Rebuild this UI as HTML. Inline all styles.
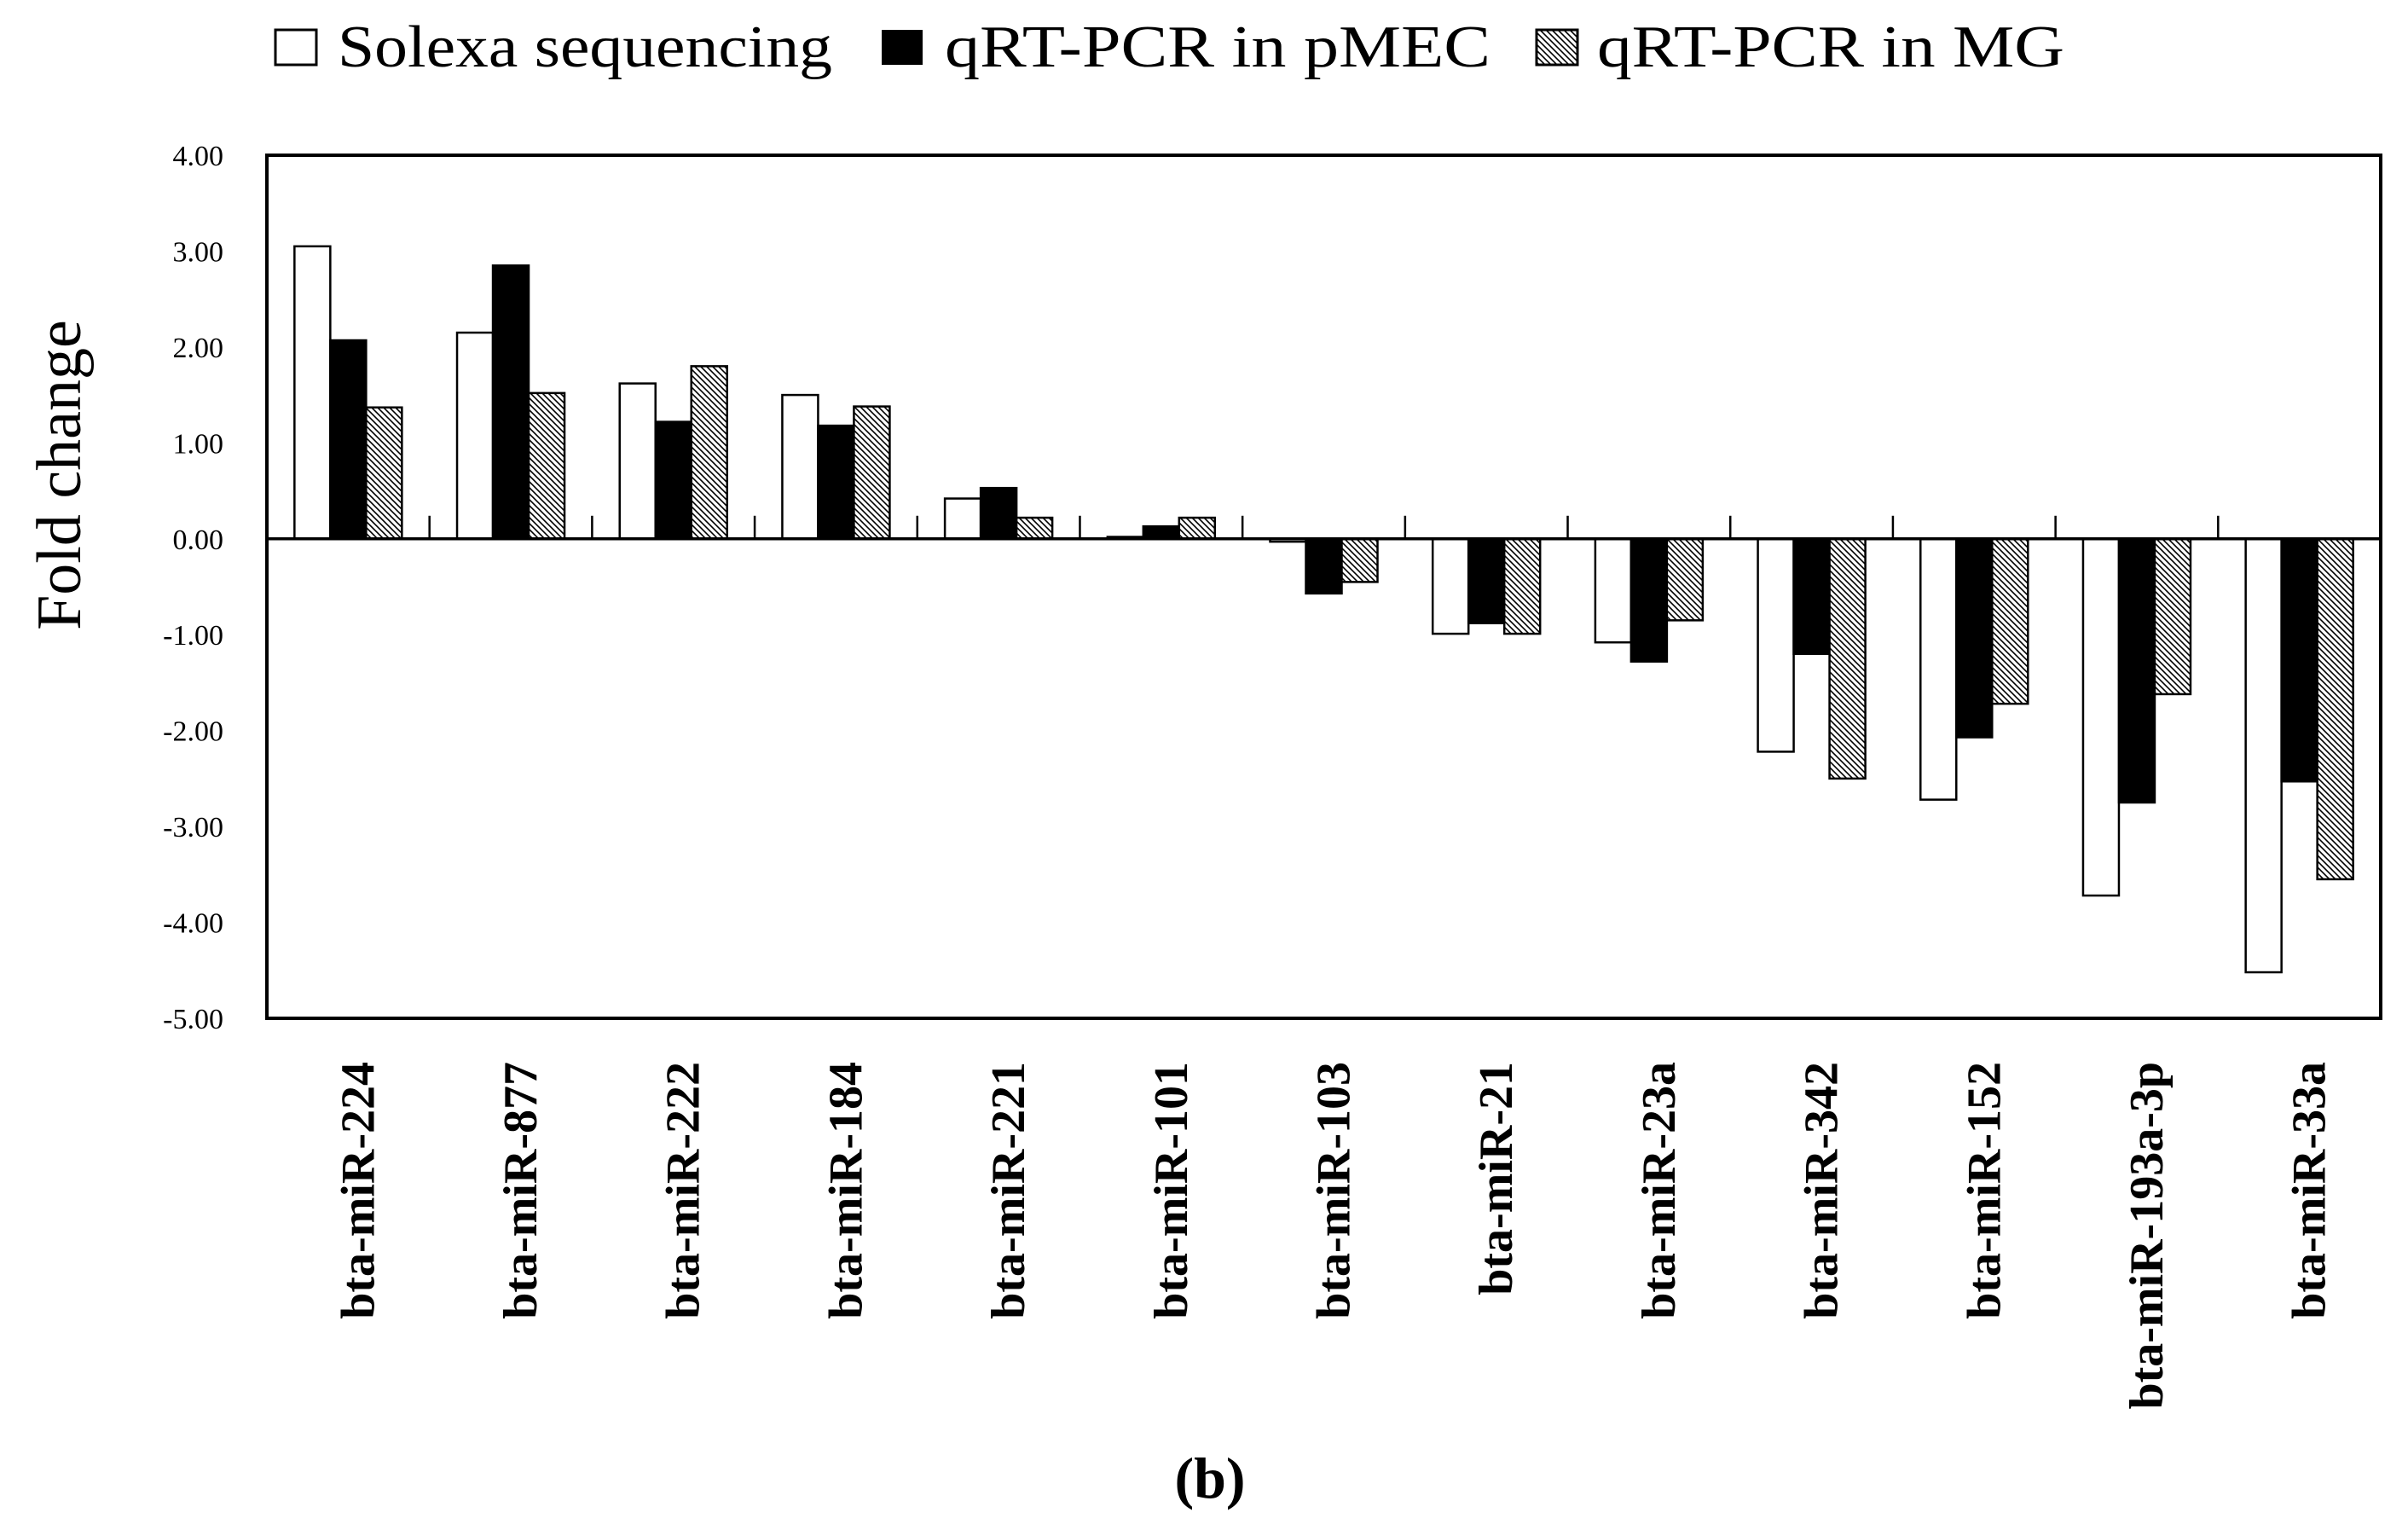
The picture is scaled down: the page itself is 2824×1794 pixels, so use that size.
<!DOCTYPE html>
<html><head><meta charset="utf-8"><style>
html,body{margin:0;padding:0;background:#fff}
svg{display:block}
text{font-family:"Liberation Serif",serif;fill:#000}
</style></head><body>
<svg id="chart" width="2824" height="1794" viewBox="0 0 2824 1794">
<defs>
<pattern id="hatch" width="7" height="7" patternUnits="userSpaceOnUse">
<rect width="7" height="7" fill="#fff"/>
<path d="M-1,-1 L8,8 M-1,6 L1,8 M6,-1 L8,1" stroke="#000" stroke-width="1.6"/>
</pattern>
</defs>
<g>
<rect x="323" y="35" width="48" height="41" fill="#fff" stroke="#000" stroke-width="3"/>
<text x="396" y="78" font-size="70" textLength="580" lengthAdjust="spacingAndGlyphs">Solexa sequencing</text>
<rect x="1034" y="35" width="48" height="41" fill="#000"/>
<text x="1108" y="78" font-size="70" textLength="640" lengthAdjust="spacingAndGlyphs">qRT-PCR in pMEC</text>
<rect x="1802" y="35" width="48" height="41" fill="url(#hatch)" stroke="#000" stroke-width="3"/>
<text x="1873" y="78" font-size="70" textLength="548" lengthAdjust="spacingAndGlyphs">qRT-PCR in MG</text>
</g>
<text transform="translate(94,557) rotate(-90)" text-anchor="middle" font-size="74">Fold change</text>
<g id="plot"></g>
<text x="1419" y="1756" text-anchor="middle" font-size="68" font-weight="bold">(b)</text>
</svg>
<script>
const categories = ["bta-miR-224","bta-miR-877","bta-miR-222","bta-miR-184","bta-miR-221","bta-miR-101","bta-miR-103","bta-miR-21","bta-miR-23a","bta-miR-342","bta-miR-152","bta-miR-193a-3p","bta-miR-33a"];
const solexa = [3.05,2.15,1.62,1.50,0.42,0.02,-0.03,-0.99,-1.08,-2.22,-2.72,-3.72,-4.52];
const pmec = [2.07,2.85,1.22,1.18,0.53,0.13,-0.57,-0.88,-1.28,-1.20,-2.07,-2.75,-2.53];
const mg = [1.37,1.52,1.80,1.38,0.22,0.22,-0.45,-0.99,-0.85,-2.50,-1.72,-1.62,-3.55];
const yTicks = [4,3,2,1,0,-1,-2,-3,-4,-5];
const yTickLabels = ["4.00","3.00","2.00","1.00","0.00","-1.00","-2.00","-3.00","-4.00","-5.00"];

const NS="http://www.w3.org/2000/svg";
const L=313,R=2792,T=182,B=1194,yMax=4,yMin=-5;
const y=v=>T+(yMax-v)/(yMax-yMin)*(B-T);
const bw=(R-L)/categories.length;
const x=i=>L+i*bw;
const barW=42, pad=(bw-3*barW)/2;
const plot=document.getElementById('plot');
function mk(tag,attrs){const e=document.createElementNS(NS,tag);for(const k in attrs)e.setAttribute(k,attrs[k]);plot.appendChild(e);return e;}

const frame=mk('rect',{x:L,y:T,width:R-L,height:B-T,fill:'none',stroke:'#000','stroke-width':4});



yTicks.forEach((v,i)=>{
  const t=mk('text',{x:262,y:y(v)+12,'text-anchor':'end','font-size':34});
  t.textContent=yTickLabels[i];
  
  
});

const series=[[solexa,'#fff','solexa'],[pmec,'#000','pmec'],[mg,'url(#hatch)','mg']];
categories.forEach((c,i)=>{
  series.forEach(([arr,fill,name],s)=>{
    const v=arr[i];
    const y0=y(0),y1=y(v);
    const r=mk('rect',{x:x(i)+pad+s*barW,y:Math.min(y0,y1),width:barW,height:Math.max(Math.abs(y1-y0),1),fill:fill,stroke:'#000','stroke-width':2.5});
    
    
  });
  const cx=x(i)+bw/2+12;
  const t=mk('text',{transform:`translate(${cx+18},1245) rotate(-90)`,'text-anchor':'end','font-size':56,'font-weight':'bold'});
  t.textContent=c;
  
  
  if(i>0){
    const tk=mk('line',{x1:x(i),x2:x(i),y1:y(0)-27,y2:y(0),stroke:'#000','stroke-width':2.5});
    
    
  }
});
const zl=mk('line',{x1:L,x2:R,y1:y(0),y2:y(0),stroke:'#000','stroke-width':3.5});


</script>
</body></html>
